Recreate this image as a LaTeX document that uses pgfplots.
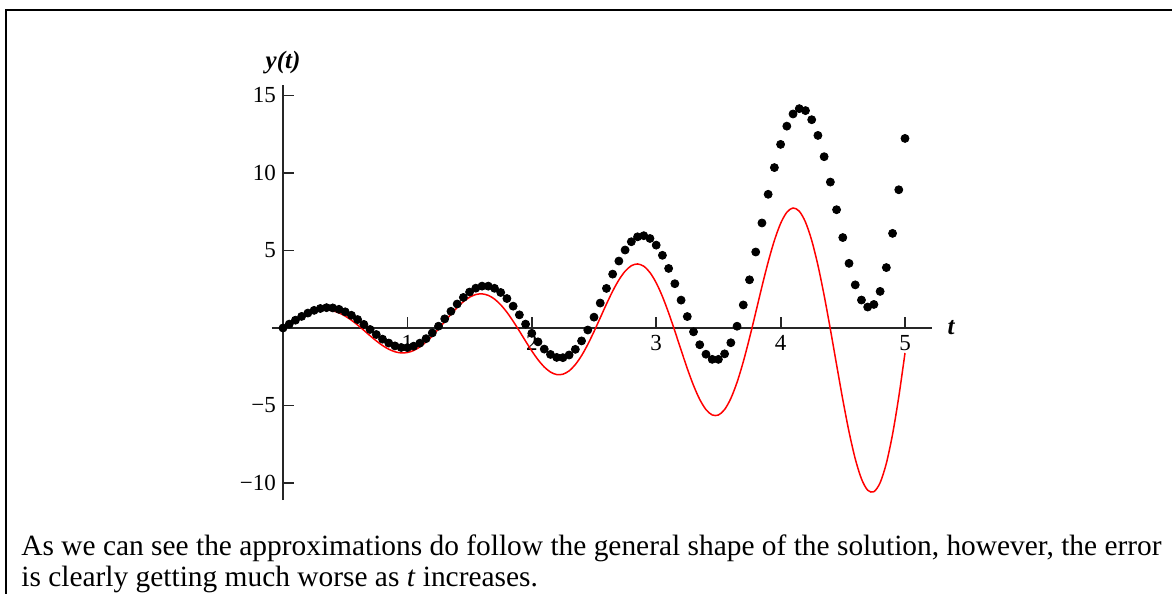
\documentclass[border=0pt]{standalone}
\usepackage{fontspec}
\setmainfont{Liberation Serif}
\usepackage{pgfplots}
\pgfplotsset{compat=1.18}
\pgfplotstableread{
t y
0 0
0.05 0.2537
0.1 0.5040
0.15 0.7347
0.2 0.9300
0.25 1.0753
0.3 1.1589
0.35 1.1721
0.4 1.1106
0.45 0.9744
0.5 0.7685
0.55 0.5025
0.6 0.1905
0.65 -0.1497
0.7 -0.4978
0.75 -0.8317
0.8 -1.1290
0.85 -1.3690
0.9 -1.5330
0.95 -1.6069
1.0 -1.5809
1.05 -1.4520
1.1 -1.2228
1.15 -0.9033
1.2 -0.5091
1.25 -0.0620
1.3 0.4120
1.35 0.8838
1.4 1.3231
1.45 1.6995
1.5 1.9857
1.55 2.1589
1.6 2.2019
1.65 2.1053
1.7 1.8682
1.75 1.4986
1.8 1.0136
1.85 0.4386
1.9 -0.1942
1.95 -0.8471
2.0 -1.4788
2.05 -2.0477
2.1 -2.5139
2.15 -2.8421
2.2 -3.0042
2.25 -2.9810
2.3 -2.7650
2.35 -2.3596
2.4 -1.7816
2.45 -1.0594
2.5 -0.2314
2.55 0.6535
2.6 1.5415
2.65 2.3762
2.7 3.1006
2.75 3.6624
2.8 4.0171
2.85 4.1313
2.9 3.9856
2.95 3.5759
3.0 2.9144
3.05 2.0320
3.1 0.9729
3.15 -0.2029
3.2 -1.4260
3.25 -2.6200
3.3 -3.7058
3.35 -4.6095
3.4 -5.2626
3.45 -5.6103
3.5 -5.6142
3.55 -5.2572
3.6 -4.5432
3.65 -3.5002
3.7 -2.1782
3.75 -0.6482
3.8 1.0016
3.85 2.6721
3.9 4.2559
3.95 5.6471
4.0 6.7455
4.05 7.4662
4.1 7.7430
4.15 7.5361
4.2 6.8327
4.25 5.6534
4.3 4.0495
4.35 2.1028
4.4 -0.0794
4.45 -2.3680
4.5 -4.6215
4.55 -6.6938
4.6 -8.4402
4.65 -9.7328
4.7 -10.4657
4.75 -10.5618
4.8 -9.9826
4.85 -8.7309
4.9 -6.8533
4.95 -4.4378
5.0 -1.6117
}\exacttable
\pgfplotstableread{
t y
0 0
0.05 0.25
0.1 0.50451
0.15 0.74779
0.2 0.96399
0.25 1.13823
0.3 1.25757
0.35 1.31202
0.4 1.29525
0.45 1.20518
0.5 1.04441
0.55 0.82026
0.6 0.54449
0.65 0.23285
0.7 -0.09572
0.75 -0.42032
0.8 -0.71903
0.85 -0.97052
0.9 -1.15540
0.95 -1.25749
1.0 -1.26508
1.05 -1.17187
1.1 -0.97773
1.15 -0.68894
1.2 -0.31819
1.25 0.11603
1.3 0.59017
1.35 1.07704
1.4 1.54726
1.45 1.97109
1.5 2.31996
1.55 2.56975
1.6 2.70061
1.65 2.69962
1.7 2.56191
1.75 2.29120
1.8 1.90002
1.85 1.40939
1.9 0.84800
1.95 0.25065
2.0 -0.34371
2.05 -0.89417
2.1 -1.36037
2.15 -1.70533
2.2 -1.89763
2.25 -1.91410
2.3 -1.74143
2.35 -1.37776
2.4 -0.83319
2.45 -0.12992
2.5 0.69888
2.55 1.61027
2.6 2.55407
2.65 3.47573
2.7 4.31934
2.75 5.03156
2.8 5.56494
2.85 5.88143
2.9 5.95517
2.95 5.77504
3.0 5.34585
3.05 4.68907
3.1 3.84234
3.15 2.85771
3.2 1.79906
3.25 0.73878
3.3 -0.24646
3.35 -1.08050
3.4 -1.69265
3.45 -2.02229
3.5 -2.02355
3.55 -1.66873
3.6 -0.95103
3.65 0.11370
3.7 1.48717
3.75 3.10976
3.8 4.90354
3.85 6.77627
3.9 8.62649
3.95 10.34975
4.0 11.84546
4.05 13.02302
4.1 13.80872
4.15 14.15116
4.2 14.02570
4.25 13.43795
4.3 12.42430
4.35 11.05176
4.4 9.41480
4.45 7.63134
4.5 5.83575
4.55 4.17165
4.6 2.78262
4.65 1.80394
4.7 1.35253
4.75 1.51925
4.8 2.36165
4.85 3.89808
4.9 6.10545
4.95 8.91831
5.0 12.23056
}\eulertable
\begin{document}
\begin{tikzpicture}
\useasboundingbox (0,0) rectangle (586pt,297pt);
\draw[line width=1pt] (3pt,-20pt) -- (3pt,292pt) -- (620pt,292pt);
\begin{axis}[
  at={(141.5pt,133pt)}, anchor=origin,
  x=62.2pt, y=7.75pt,
  xmin=-0.09, xmax=5.22, ymin=-11.1, ymax=15.68,
  axis lines=middle,
  axis line style={-, line width=0.9pt, black!85},
  tick align=inside, major tick length=5.5pt,
  tick style={line width=0.9pt, black!85},
  xtick={1,2,3,4,5}, xticklabels={1,2,3,4,5},
  ytick={-10,-5,5,10,15}, yticklabels={−10,−5,5,10,15},
  tick label style={font=\fontsize{11.5pt}{13pt}\selectfont},
  clip=false,
]
\addplot[red, line width=0.75pt, smooth, no marks] table[x=t,y=y] {\exacttable};
\addplot[only marks, mark=*, mark size=2pt, black] table[x=t,y=y] {\eulertable};
\node[font=\fontsize{12.5pt}{14pt}\selectfont\bfseries\itshape] at (axis cs:5.37,0) {t};
\node[font=\fontsize{12.5pt}{14pt}\selectfont\bfseries\itshape] at (axis cs:0,17.1) {y(t)};
\end{axis}
\node[anchor=base west, inner sep=0pt, font=\fontsize{14.7pt}{21pt}\selectfont] at (10.5pt,19pt) {As we can see the approximations do follow the general shape of the solution, however, the error};
\node[anchor=base west, inner sep=0pt, font=\fontsize{14.7pt}{21pt}\selectfont] at (10.5pt,3.5pt) {is clearly getting much worse as \textit{t} increases.};
\end{tikzpicture}
\end{document}
